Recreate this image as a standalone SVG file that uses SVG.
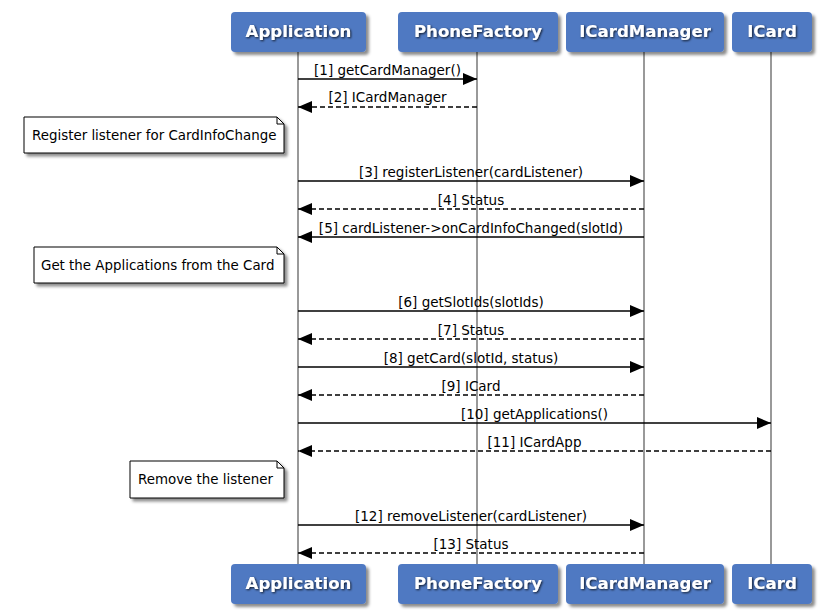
<svg xmlns="http://www.w3.org/2000/svg" width="824" height="612" viewBox="0 0 824 612">
<defs>
<filter id="sh" x="-10%" y="-20%" width="130%" height="160%">
<feDropShadow dx="3" dy="3" stdDeviation="1.5" flood-color="#000" flood-opacity="0.45"/>
</filter>
<filter id="tsh" x="-10%" y="-30%" width="130%" height="170%">
<feDropShadow dx="1" dy="1" stdDeviation="1" flood-color="#000" flood-opacity="0.8"/>
</filter>
<marker id="ah" viewBox="0 0 14 12" refX="14" refY="6" markerWidth="14" markerHeight="12" markerUnits="userSpaceOnUse" orient="auto">
<path d="M0,0 L14,6 L0,12 Z" fill="#000"/>
</marker>
<style>
.box{fill:#4f79c2;filter:url(#sh)}
.bt{font-family:"DejaVu Sans",sans-serif;font-weight:bold;font-size:16.6px;fill:#fff;text-anchor:middle;filter:url(#tsh)}
.life{stroke:#999;stroke-width:2}
.msg{stroke:#000;stroke-width:1.6;fill:none;marker-end:url(#ah)}
.dash{stroke-dasharray:5,3}
.lbl{font-family:"DejaVu Sans",sans-serif;font-size:13.5px;fill:#000;text-anchor:middle}
.note{fill:#fff;stroke:#000;stroke-width:1;filter:url(#sh)}
.fold{fill:none;stroke:#000;stroke-width:1}
.nt{font-family:"DejaVu Sans",sans-serif;font-size:13.4px;fill:#000}
</style>
</defs>
<rect width="824" height="612" fill="#fff"/>
<g id="lifelines">
<line class="life" x1="298" y1="52" x2="298" y2="564"/>
<line class="life" x1="477" y1="52" x2="477" y2="564"/>
<line class="life" x1="644" y1="52" x2="644" y2="564"/>
<line class="life" x1="771" y1="52" x2="771" y2="564"/>
</g>
<g id="Application">
<rect class="box" x="231" y="12" width="135" height="40" rx="4"/>
<text class="bt" x="298.5" y="37">Application</text>
<rect class="box" x="231" y="564" width="135" height="40" rx="4"/>
<text class="bt" x="298.5" y="589">Application</text>
</g>
<g id="PhoneFactory">
<rect class="box" x="398" y="12" width="160" height="40" rx="4"/>
<text class="bt" x="478" y="37">PhoneFactory</text>
<rect class="box" x="398" y="564" width="160" height="40" rx="4"/>
<text class="bt" x="478" y="589">PhoneFactory</text>
</g>
<g id="ICardManager">
<rect class="box" x="566" y="12" width="158" height="40" rx="4"/>
<text class="bt" x="645" y="37">ICardManager</text>
<rect class="box" x="566" y="564" width="158" height="40" rx="4"/>
<text class="bt" x="645" y="589">ICardManager</text>
</g>
<g id="ICard">
<rect class="box" x="732" y="12" width="80" height="40" rx="4"/>
<text class="bt" x="772" y="37">ICard</text>
<rect class="box" x="732" y="564" width="80" height="40" rx="4"/>
<text class="bt" x="772" y="589">ICard</text>
</g>
<g id="note1">
<path class="note" d="M24,117 L277,117 L284,124 L284,153 L24,153 Z"/>
<path class="fold" d="M277,117 L277,124 L284,124"/>
<text class="nt" x="32" y="140">Register listener for CardInfoChange</text>
</g>
<g id="note2">
<path class="note" d="M34,247 L277,247 L284,254 L284,283 L34,283 Z"/>
<path class="fold" d="M277,247 L277,254 L284,254"/>
<text class="nt" x="41" y="270">Get the Applications from the Card</text>
</g>
<g id="note3">
<path class="note" d="M130,461 L277,461 L284,468 L284,498 L130,498 Z"/>
<path class="fold" d="M277,461 L277,468 L284,468"/>
<text class="nt" x="138" y="484">Remove the listener</text>
</g>
<g id="connectors">
<line class="msg" x1="298" y1="79" x2="477" y2="79"/>
<text class="lbl" x="387.5" y="75">[1] getCardManager()</text>
<line class="msg dash" x1="477" y1="107" x2="298" y2="107"/>
<text class="lbl" x="387.5" y="102">[2] ICardManager</text>
<line class="msg" x1="298" y1="181" x2="644" y2="181"/>
<text class="lbl" x="471" y="177">[3] registerListener(cardListener)</text>
<line class="msg dash" x1="644" y1="209" x2="298" y2="209"/>
<text class="lbl" x="471" y="205">[4] Status</text>
<line class="msg" x1="644" y1="237" x2="298" y2="237"/>
<text class="lbl" x="471" y="233">[5] cardListener-&gt;onCardInfoChanged(slotId)</text>
<line class="msg" x1="298" y1="311" x2="644" y2="311"/>
<text class="lbl" x="471" y="307">[6] getSlotIds(slotIds)</text>
<line class="msg dash" x1="644" y1="339" x2="298" y2="339"/>
<text class="lbl" x="471" y="335">[7] Status</text>
<line class="msg" x1="298" y1="367" x2="644" y2="367"/>
<text class="lbl" x="471" y="363">[8] getCard(slotId, status)</text>
<line class="msg dash" x1="644" y1="395" x2="298" y2="395"/>
<text class="lbl" x="471" y="391">[9] ICard</text>
<line class="msg" x1="298" y1="423" x2="771" y2="423"/>
<text class="lbl" x="534.5" y="419">[10] getApplications()</text>
<line class="msg dash" x1="771" y1="451" x2="298" y2="451"/>
<text class="lbl" x="534.5" y="447">[11] ICardApp</text>
<line class="msg" x1="298" y1="525" x2="644" y2="525"/>
<text class="lbl" x="471" y="521">[12] removeListener(cardListener)</text>
<line class="msg dash" x1="644" y1="553" x2="298" y2="553"/>
<text class="lbl" x="471" y="549">[13] Status</text>
</g>
</svg>
